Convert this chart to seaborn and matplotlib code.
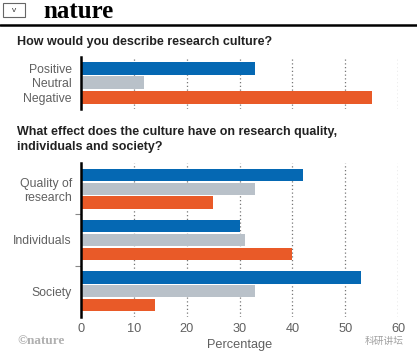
import matplotlib
matplotlib.use("Agg")
import matplotlib.pyplot as plt
import matplotlib.patches as mpatches
from matplotlib.lines import Line2D
import pandas as pd
import seaborn as sns

# Survey answers (percentages)
culture_categories = ["Positive", "Neutral", "Negative"]
culture_values = [33, 12, 55]

effect_groups = ["Quality of\nresearch", "Individuals", "Society"]
positive_values = [42, 30, 53]
neutral_values = [33, 31, 33]
negative_values = [25, 40, 14]

x_ticks = [0, 10, 20, 30, 40, 50, 60]

BLUE = "#0568b3"
GREY = "#b9c1c9"
ORANGE = "#e95a28"
colors = [BLUE, GREY, ORANGE]

W, H = 417, 355

sns.set_theme(style="white")
plt.rcParams["font.family"] = ["Liberation Sans", "DejaVu Sans"]

fig = plt.figure(figsize=(W / 100, H / 100), dpi=100)


def fx(px):
    return px / W


def fy(py):
    return 1 - py / H


def style_axes(ax):
    for side in ["top", "right", "bottom"]:
        ax.spines[side].set_visible(False)
    ax.spines["left"].set_color("black")
    ax.spines["left"].set_linewidth(1.8)
    ax.set_xlim(0, 60)
    ax.set_xticks(x_ticks)
    ax.xaxis.grid(True, linestyle=(0, (1, 2)), color="#777777", linewidth=0.9)
    ax.yaxis.grid(False)
    ax.set_axisbelow(True)
    ax.tick_params(axis="y", length=0, pad=6.5, labelsize=8.8, labelcolor="#606060")
    ax.tick_params(axis="x", length=0, labelsize=9.2, labelcolor="#606060", pad=4)
    ax.set_ylabel("")
    ax.set_xlabel("")


# header
fig.add_artist(mpatches.Rectangle((fx(3), fy(17)), fx(22), 14 / H, fill=False,
                                  edgecolor="#666666", linewidth=0.8, transform=fig.transFigure))
fig.text(fx(14), fy(10), "v", fontsize=6, color="#333333", ha="center", va="center")
fig.text(fx(43), fy(11), "nature", fontsize=18, fontweight="bold", family="Liberation Serif",
         color="black", ha="left", va="center")
fig.add_artist(Line2D([0, 1], [fy(25), fy(25)], color="black", linewidth=1.8, transform=fig.transFigure))

# first question
fig.text(fx(17), fy(42), "How would you describe research culture?", fontsize=9,
         fontweight="bold", color="#222222", ha="left", va="center")

ax1 = fig.add_axes([fx(81), fy(109), fx(398 - 81), 52 / H])
sns.barplot(x=culture_values, y=culture_categories, hue=culture_categories, palette=colors,
            saturation=1, width=0.9, linewidth=0, legend=False, ax=ax1)
style_axes(ax1)
ax1.set_ylim(2.82, -0.8)
ax1.set_xticklabels([])

# second question
fig.text(fx(17), fy(132), "What effect does the culture have on research quality,", fontsize=9,
         fontweight="bold", color="#222222", ha="left", va="center")
fig.text(fx(17), fy(147), "individuals and society?", fontsize=9,
         fontweight="bold", color="#222222", ha="left", va="center")

effect_df = pd.DataFrame({
    "group": effect_groups * 3,
    "response": ["Positive"] * 3 + ["Neutral"] * 3 + ["Negative"] * 3,
    "value": positive_values + neutral_values + negative_values,
})

ax2 = fig.add_axes([fx(81), fy(317), fx(398 - 81), 154 / H])
sns.barplot(data=effect_df, x="value", y="group", hue="response", palette=colors,
            saturation=1, width=0.8, gap=0.1, linewidth=0, legend=False, ax=ax2)
style_axes(ax2)
ax2.set_ylim(2.5, -0.5)
ax2.set_yticks([0.5, 1.5], minor=True)
ax2.tick_params(axis="y", which="minor", length=4, width=0.8, color="#888888", left=True)
ax2.set_xlabel("Percentage", fontsize=9.2, color="#606060", labelpad=3)

# footer
fig.text(fx(17), fy(341), "\u00a9nature", fontsize=9.5, fontweight="bold", family="Liberation Serif",
         color="#b0b0b0", ha="left", va="center")
fig.text(fx(365), fy(341), "科研讲坛", fontsize=7, family=["Noto Sans CJK SC", "DejaVu Sans"],
         color="#a0a0a0", ha="left", va="center")

fig.savefig("out.png", dpi=100)
